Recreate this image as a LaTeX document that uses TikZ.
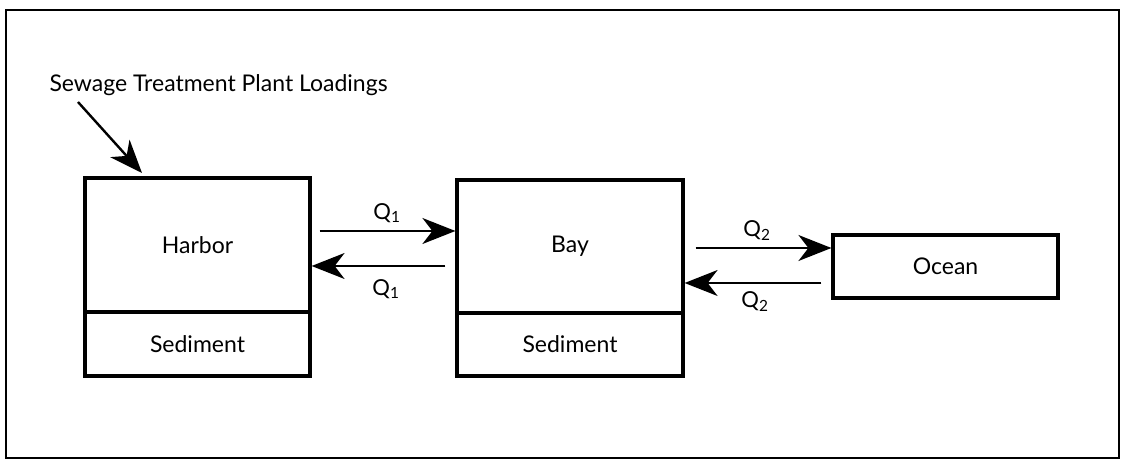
\documentclass[tikz,border=0pt]{standalone}
\usepackage{fontspec}
\setmainfont{Lato}
\usetikzlibrary{arrows.meta}

\tikzset{
  comp/.style={draw,line width=3.2pt,inner sep=0pt,minimum width=225pt},
  flow/.style={line width=1.8pt,-{Stealth[length=33pt,width=26pt,inset=10pt]}},
  qlab/.style={font=\fontsize{22}{24}\selectfont}
}

\begin{document}
\begin{tikzpicture}[x=1pt,y=1pt,font=\fontsize{23}{26}\selectfont]
    \useasboundingbox (0,0) rectangle (1123,460);
    \draw[line width=2.2pt] (6,2) rectangle (1119,450);

    % compartments
    \node[comp,minimum height=134pt] (harbor) at (197.5,215) {Harbor};
    \node[comp,minimum height=64pt] (harborsed) at (197.5,116) {Sediment};
    \node[comp,minimum width=226pt,minimum height=133pt] (bay) at (570,213.5) {Bay};
    \node[comp,minimum width=226pt,minimum height=63pt] (baysed) at (570,115.5) {Sediment};
    \node[comp,minimum height=63pt] (ocean) at (945.5,193.5) {Ocean};

    % loading
    \node[anchor=west] (stp) at (46,375) {Sewage Treatment Plant Loadings};
    \coordinate (stpend) at (142,287);
    \draw[flow,line width=2.4pt] (78,358) -- (stpend);

    % exchange flows
    \draw[flow] ([shift={(8,14)}]harbor.east) -- ([yshift=15.5]bay.west);
    \draw[flow] ([shift={(-10,-19.5)}]bay.west) -- ([yshift=-21]harbor.east);
    \draw[flow] ([shift={(11,-1.5)}]bay.east) -- ([yshift=18.5]ocean.west);
    \draw[flow] ([shift={(-10,-16.5)}]ocean.west) -- ([yshift=-36.5]bay.east);

    \node[qlab] (q1a) at (387,247) {Q\textsubscript{1}};
    \node[qlab] (q1b) at (386,171) {Q\textsubscript{1}};
    \node[qlab] (q2a) at (757,229) {Q\textsubscript{2}};
    \node[qlab] (q2b) at (755,158) {Q\textsubscript{2}};
\end{tikzpicture}
\end{document}
